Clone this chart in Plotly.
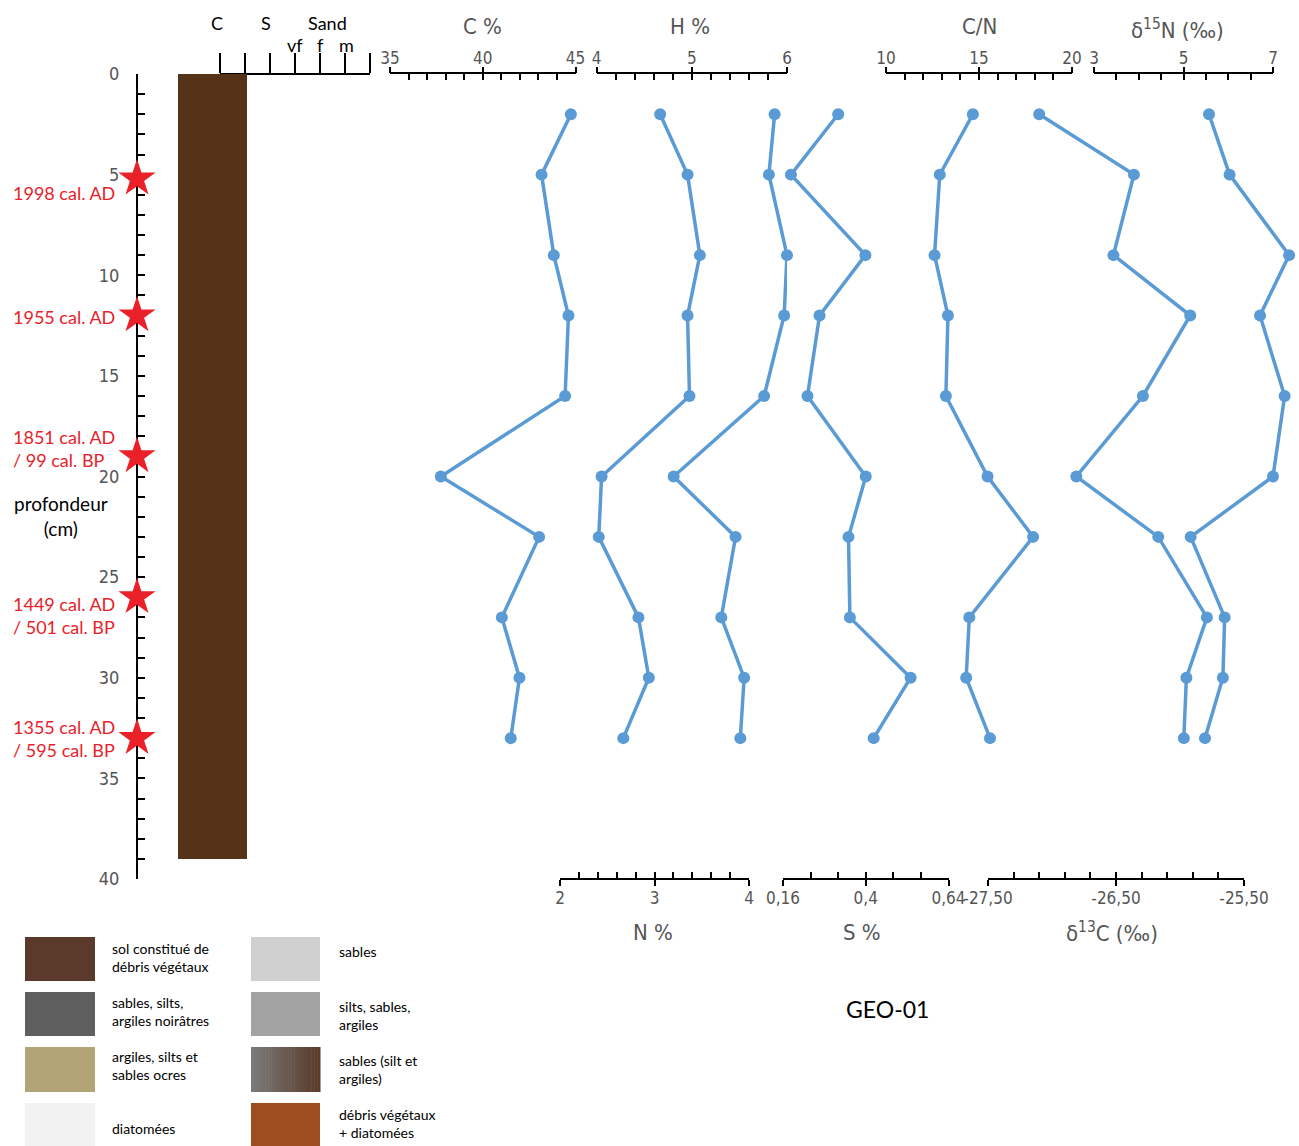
import plotly.graph_objects as go

W, H = 1299, 1146

# ---------------- data ----------------
depth = [2, 5, 9, 12, 16, 20, 23, 27, 30, 33]
c_pct = [44.75, 43.17, 43.83, 44.62, 44.44, 37.74, 43.04, 41.03, 41.98, 41.51]
h_pct = [5.87, 5.81, 6.00, 5.97, 5.76, 4.81, 5.46, 5.31, 5.55, 5.51]
cn_ratio = [14.67, 12.89, 12.61, 13.33, 13.22, 15.46, 17.91, 14.48, 14.31, 15.59]
d15n = [5.57, 6.03, 7.36, 6.71, 7.26, 7.00, 5.16, 5.92, 5.88, 5.48]
n_pct = [3.06, 3.35, 3.48, 3.35, 3.37, 2.44, 2.41, 2.83, 2.94, 2.67]
s_pct = [0.320, 0.183, 0.399, 0.266, 0.231, 0.400, 0.350, 0.354, 0.530, 0.423]
d13c = [-27.10, -26.36, -26.52, -25.92, -26.29, -26.81, -26.17, -25.79, -25.95, -25.97]

date_depths = [5.2, 12, 19, 26, 33]
date_labels = ["1998 cal. AD", "1955 cal. AD", "1851 cal. AD<br>/ 99 cal. BP",
               "1449 cal. AD<br>/ 501 cal. BP", "1355 cal. AD<br>/ 595 cal. BP"]

litho_top = [0]
litho_bottom = [39]

grain_labels_top = ["C", "S", "Sand"]
grain_labels_bottom = ["vf", "f", "m"]

legend_labels = [
    ("sol constitué de<br>débris végétaux", "#5b3a2c"),
    ("sables, silts,<br>argiles noirâtres", "#5f5f5f"),
    ("argiles, silts et<br>sables ocres", "#b3a477"),
    ("diatomées", "#f2f2f2"),
    ("sables", "#d0d0d0"),
    ("silts, sables,<br>argiles", "#a3a3a3"),
    ("sables (silt et<br>argiles)", None),
    ("débris végétaux<br>+ diatomées", "#9c4e21"),
]

# ---------------- helpers ----------------
def px(x):
    return x / W


def py(y):
    return 1 - y / H


BLUE = "#5b9bd5"
GREY = "#555555"
TICKFAMILY = "DejaVu Sans Condensed, Liberation Sans Narrow, Arial Narrow, sans-serif"
TICKFONT = dict(family=TICKFAMILY, size=17, color=GREY)
TEXTFONT = "Lato, Open Sans, sans-serif"

fig = go.Figure()
layout = {}
annotations = []
shapes = []


def anchor_trace(xref, yref="y"):
    # empty trace so that a layout-only axis gets drawn
    fig.add_trace(go.Scatter(x=[None], y=[None], xaxis=xref, yaxis=yref, mode="markers",
                             showlegend=False, hoverinfo="skip"))


Y_TOP, Y_BOT = 74, 879

# depth axis
layout["yaxis"] = dict(
    domain=[py(Y_BOT), py(Y_TOP)], range=[40, 0], anchor="free", position=px(137),
    showline=True, linecolor="black", linewidth=2, ticks="inside", ticklen=7,
    tickwidth=2, tickcolor="black", dtick=5, tick0=0,
    tickfont=dict(family=TICKFAMILY, size=18, color=GREY),
    ticklabelstandoff=13, showgrid=False, zeroline=False, automargin=False,
    minor=dict(ticks="inside", ticklen=7, tickwidth=1.5, tickcolor="black",
               dtick=1, tick0=0, showgrid=False),
)
layout["yaxis2"] = dict(
    overlaying="y", range=[40, 0], anchor="free", position=px(137),
    showline=False, ticks="outside", ticklen=7, tickwidth=2, tickcolor="black",
    dtick=5, tick0=0, showticklabels=False, showgrid=False, zeroline=False,
    automargin=False,
)

axis_counter = [1]


def new_axis_name():
    n = axis_counter[0]
    axis_counter[0] += 1
    return ("xaxis" if n == 1 else f"xaxis{n}"), ("x" if n == 1 else f"x{n}")


def add_scale(x0px, x1px, rng, side, dtick, tick0, minor_dtick, ypos,
              tickvals=None, ticktext=None):
    lname, tref = new_axis_name()
    base = dict(domain=[px(x0px), px(x1px)], range=rng, side=side, anchor="free",
                position=py(ypos), showgrid=False, zeroline=False, automargin=False)
    ax = dict(base)
    ax.update(showline=True, linecolor="black", linewidth=2,
              ticks="inside", ticklen=6, tickwidth=2, tickcolor="black",
              tickfont=TICKFONT, ticklabelstandoff=1 if side == "top" else 4,
              minor=dict(ticks="inside", ticklen=6, tickwidth=1.5, tickcolor="black",
                         tickmode="linear", dtick=minor_dtick, tick0=tick0, showgrid=False))
    if tickvals is not None:
        ax.update(tickmode="array", tickvals=tickvals, ticktext=ticktext)
    else:
        ax.update(tickmode="linear", dtick=dtick, tick0=tick0)
    layout[lname] = ax
    # overlay for the outer half of the major ticks
    lname2, tref2 = new_axis_name()
    ov = dict(base)
    ov.update(overlaying=tref, showline=False, ticks="outside", ticklen=6, tickwidth=2,
              tickcolor="black", showticklabels=False)
    if tickvals is not None:
        ov.update(tickmode="array", tickvals=tickvals)
    else:
        ov.update(tickmode="linear", dtick=dtick, tick0=tick0)
    layout[lname2] = ov
    anchor_trace(tref2)
    return tref


def add_series(tref, values):
    fig.add_trace(go.Scatter(
        x=values, y=depth, xaxis=tref, yaxis="y", mode="lines+markers",
        line=dict(color=BLUE, width=3.5), marker=dict(color=BLUE, size=12),
        cliponaxis=False, showlegend=False, hoverinfo="x+y"))


TOPY, BOTY = 73, 879

x_c = add_scale(390, 575.5, [35, 45], "top", 5, 35, 1, TOPY)
x_h = add_scale(596.5, 787, [4, 6], "top", 1, 4, 0.2, TOPY)
x_cn = add_scale(886, 1072, [10, 20], "top", 5, 10, 1, TOPY)
x_d15v = add_scale(1094, 1273, [3, 7], "top", 2, 3, 0.5, TOPY)
anchor_trace(x_d15v)
x_n = add_scale(560, 749, [2, 4], "bottom", 1, 2, 0.2, BOTY)
x_s = add_scale(783, 948.5, [0.16, 0.64], "bottom", 0.24, 0.16, 0.08, BOTY,
                tickvals=[0.16, 0.4, 0.64], ticktext=["0,16", "0,4", "0,64"])
x_d13 = add_scale(988, 1244, [-27.5, -25.5], "bottom", 1, -27.5, 0.2, BOTY,
                  tickvals=[-27.5, -26.5, -25.5], ticktext=["-27,50", "-26,50", "-25,50"])

# invisible data axis for δ15N (values extend past the drawn scale end)
lname, x_d15 = new_axis_name()
layout[lname] = dict(domain=[px(1094), px(1299)], range=[3, 3 + (1299 - 1094) / 44.75],
                     visible=False, anchor="y", showgrid=False, zeroline=False,
                     automargin=False)

# grain size scale
lname, x_grain = new_axis_name()
layout[lname] = dict(domain=[px(220), px(370)], range=[0, 6], side="top", anchor="free",
                     position=py(74), showline=True, linecolor="black", linewidth=1.5,
                     ticks="outside", ticklen=20, tickwidth=1.5, tickcolor="black",
                     dtick=1, tick0=0, showticklabels=False, showgrid=False, zeroline=False,
                     automargin=False)
anchor_trace(x_grain)

# star axis (centred on the depth axis)
lname, x_star = new_axis_name()
layout[lname] = dict(domain=[0, px(274)], range=[-1, 1], visible=False, anchor="y",
                     showgrid=False, zeroline=False, automargin=False)

# lithology column axis
lname, x_lith = new_axis_name()
layout[lname] = dict(domain=[px(178), px(247)], range=[0, 1], visible=False, anchor="y",
                     showgrid=False, zeroline=False, automargin=False)

# lithology bar
fig.add_trace(go.Bar(
    x=[0.5], y=[litho_bottom[0] - litho_top[0]], base=litho_top, width=[1],
    xaxis=x_lith, yaxis="y", marker=dict(color="#553319", line=dict(width=0)),
    showlegend=False, hoverinfo="skip"))

add_series(x_c, c_pct)
add_series(x_h, h_pct)
add_series(x_cn, cn_ratio)
add_series(x_d15, d15n)
add_series(x_n, n_pct)
add_series(x_s, s_pct)
add_series(x_d13, d13c)

fig.add_trace(go.Scatter(
    x=[0] * len(date_depths), y=date_depths, xaxis=x_star, yaxis="y", mode="markers",
    marker=dict(symbol="star", size=28, color="#ea2129", line=dict(width=0)),
    cliponaxis=False, showlegend=False, hoverinfo="skip"))

# date labels
label_py = [193, 317, 448, 615, 738]
for txt, yy in zip(date_labels, label_py):
    annotations.append(dict(text=txt, x=px(11), y=py(yy), xref="paper", yref="paper",
                            xanchor="left", yanchor="middle", align="left", showarrow=False,
                            font=dict(family=TEXTFONT, size=18, color="#ea2129")))

# axis titles
titles = [("C %", 483, 27), ("H %", 690, 27), ("C/N", 980, 27),
          ("δ<sup>15</sup>N (‰)", 1177, 29),
          ("N %", 653, 932), ("S %", 862, 932), ("δ<sup>13</sup>C (‰)", 1112, 932)]
for txt, xx, yy in titles:
    annotations.append(dict(text=txt, x=px(xx), y=py(yy), xref="paper", yref="paper",
                            xanchor="center", yanchor="middle", showarrow=False,
                            font=dict(family=TICKFAMILY, size=22, color=GREY)))

# grain size labels (paper positions above the ticks)
for txt, xx in zip(grain_labels_top, [217, 266, 327]):
    annotations.append(dict(text=txt, x=px(xx), y=py(23), xref="paper", yref="paper",
                            xanchor="center", yanchor="middle", showarrow=False,
                            font=dict(family=TEXTFONT, size=18, color="black")))
for txt, xx in zip(grain_labels_bottom, [295, 320, 346]):
    annotations.append(dict(text=txt, x=px(xx), y=py(45), xref="paper", yref="paper",
                            xanchor="center", yanchor="middle", showarrow=False,
                            font=dict(family=TEXTFONT, size=18, color="black")))

annotations.append(dict(text="profondeur<br>(cm)", x=px(61), y=py(516), xref="paper",
                        yref="paper", xanchor="center", yanchor="middle", showarrow=False,
                        font=dict(family=TEXTFONT, size=19, color="black")))
annotations.append(dict(text="GEO-01", x=px(887), y=py(1009), xref="paper", yref="paper",
                        xanchor="center", yanchor="middle", showarrow=False,
                        font=dict(family=TEXTFONT, size=23, color="black")))

# legend boxes
rows = [(937, 981), (992, 1036), (1047, 1092), (1103, 1146)]
text_y = [[957, 1011, 1065, 1128], [951, 1015, 1069, 1123]]
cols = [(25, 95, 110), (251, 320, 337)]
for i, (txt, col) in enumerate(legend_labels):
    c = i // 4
    r = i % 4
    x0, x1, tx = cols[c]
    y0, y1 = rows[r]
    if col is not None:
        shapes.append(dict(type="rect", xref="paper", yref="paper", x0=px(x0), x1=px(x1),
                           y0=py(y1), y1=py(y0), fillcolor=col, line=dict(width=0)))
    else:
        n = 24
        c0 = (0x7a, 0x7a, 0x7a)
        c1 = (0x59, 0x3c, 0x2a)
        for k in range(n):
            t = k / (n - 1)
            rgb = tuple(int(round(c0[j] + (c1[j] - c0[j]) * t)) for j in range(3))
            shapes.append(dict(type="rect", xref="paper", yref="paper",
                               x0=px(x0 + (x1 - x0) * k / n), x1=px(x0 + (x1 - x0) * (k + 1) / n + 0.5),
                               y0=py(y1), y1=py(y0), fillcolor="rgb(%d,%d,%d)" % rgb,
                               line=dict(width=0)))
    annotations.append(dict(text=txt, x=px(tx), y=py(text_y[c][r]), xref="paper", yref="paper",
                            xanchor="left", yanchor="middle", align="left", showarrow=False,
                            font=dict(family=TEXTFONT, size=14, color="black")))

layout.update(width=W, height=H, margin=dict(l=0, r=0, t=0, b=0, pad=0, autoexpand=False),
              paper_bgcolor="white", plot_bgcolor="rgba(0,0,0,0)",
              showlegend=False, annotations=annotations, shapes=shapes, bargap=0)
fig.update_layout(**layout)
fig.write_html("out.html", config={"displayModeBar": False},
               post_script="document.body.style.margin='0';document.body.style.overflow='hidden';")
